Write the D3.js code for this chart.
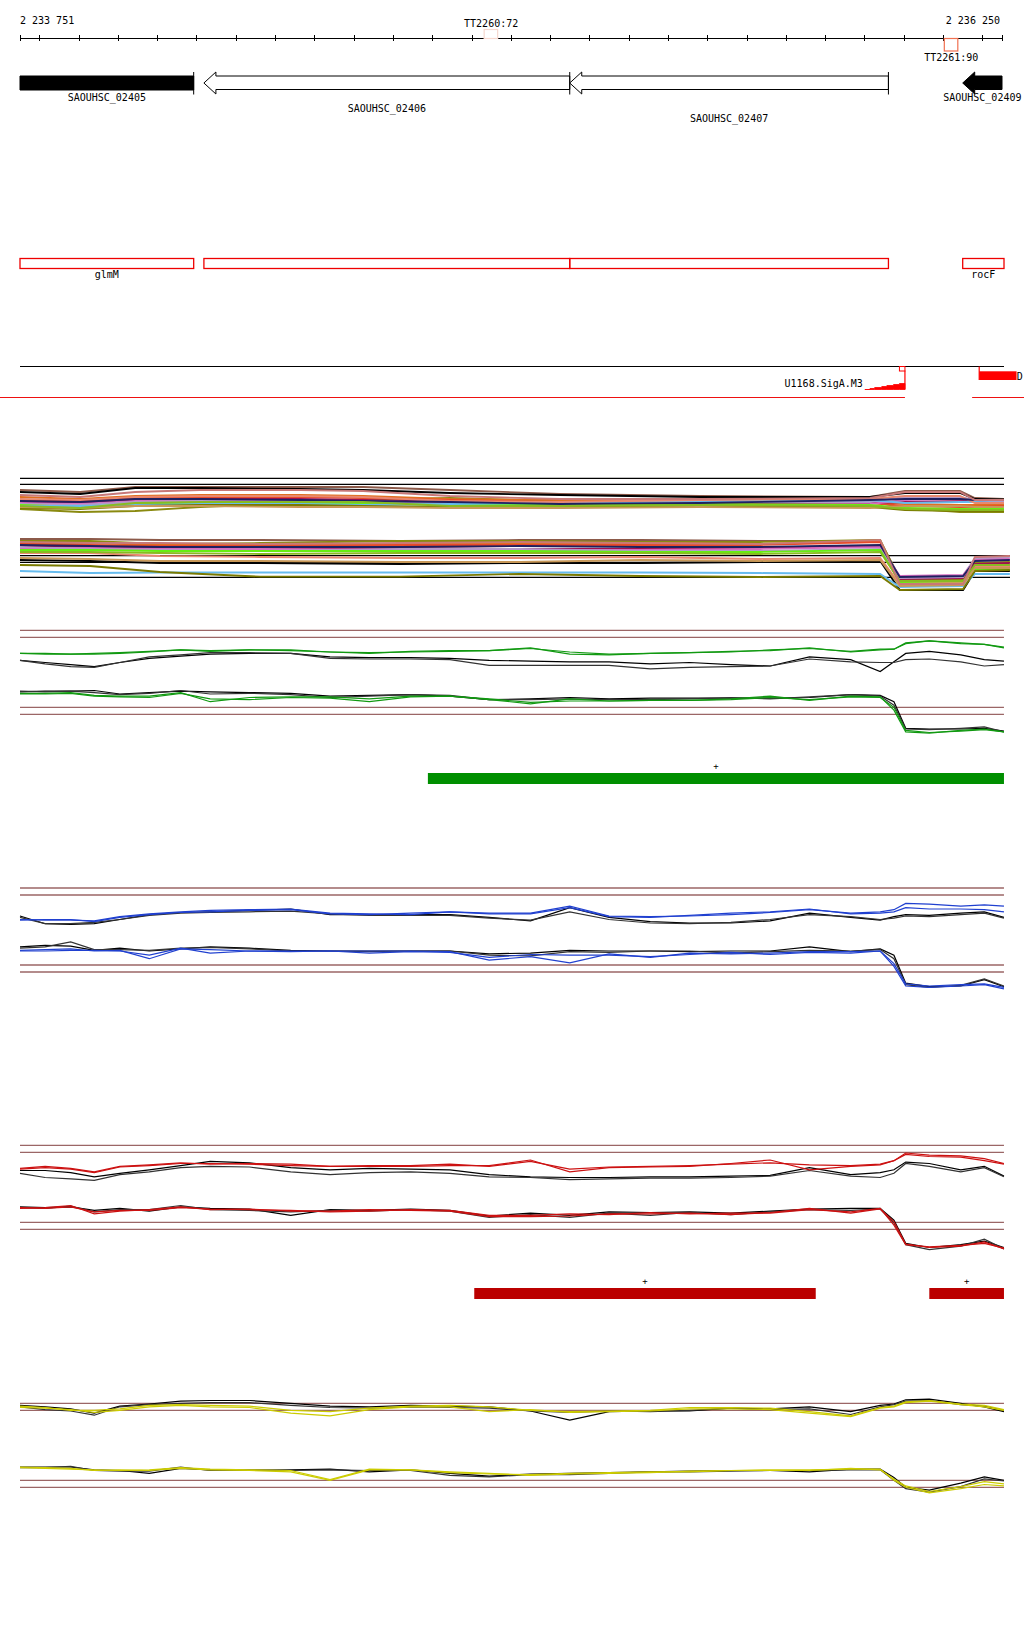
<!DOCTYPE html>
<html><head><meta charset="utf-8">
<script src="https://cdn.jsdelivr.net/npm/d3@7"></script>
<style>
body{margin:0;background:#fff}
text{font-family:"DejaVu Sans Mono",monospace;font-size:10px;fill:#000}
</style>
</head><body>
<svg id="c" width="1024" height="1640"></svg>
<script>
// ---------------- DATA ----------------
const viewStart = 2233751, viewEnd = 2236250;
const tickStep = 100;

const termNames = ["TT2260:72", "TT2261:90"];
const termPos = [2234950, 2236121];
const termStrand = ["+", "-"];

const geneNames = ["SAOUHSC_02405", "SAOUHSC_02406", "SAOUHSC_02407", "SAOUHSC_02409"];
const geneSymbols = ["glmM", "", "", "rocF"];
const geneStarts = [2233600, 2234219, 2235150, 2236150];
const geneEnds = [2234193, 2235150, 2235961, 2236400];
const geneFilled = [true, false, false, true];
const geneLabelRows = [0, 1, 2, 0];

const sigAName = "U1168.SigA.M3";
const sigAPos = [2235901, 2235914, 2235926, 2235944, 2235957, 2235974, 2235989, 2236003];
const sigAScore = [0, 1, 2, 3, 4, 5, 6, 6];
const otherSiteName = "D";
const otherSite = [2236192, 2236287];
const redLineGap = [2236003, 2236174];

// panel A : all conditions (upper = + strand, lower = - strand)
const aUpGrid = [2233751, 2233904, 2234044, 2234209, 2234464, 2234624, 2234845, 2235125, 2235481, 2235914, 2236003, 2236143, 2236181, 2236255];
const aLoGrid = [2233751, 2233929, 2234107, 2234362, 2234718, 2235023, 2235329, 2235634, 2235940, 2235990, 2236151, 2236181, 2236270];
const aColors = ["#8c5a4a", "#000000", "#8a8a10", "#e07020", "#e84a2a", "#a01050", "#d66cc0", "#b49ac8", "#66ee11", "#66bbee", "#7a7a00", "#e88870", "#c89858", "#202060", "#88bb22", "#c87878"];
const aUpper = [
  [10.0, 9.8, 10.3, 10.3, 10.3, 10.3, 10.0, 9.6, 9.4, 9.3, 9.9, 9.9, 9.2, 9.1],
  [9.8, 9.6, 10.2, 10.2, 10.1, 10.0, 9.7, 9.5, 9.3, 9.3, 9.7, 9.7, 9.1, 9.05],
  [8.1, 7.8, 7.9, 8.3, 8.7, 9.0, 9.2, 8.9, 8.8, 8.9, 8.2, 7.8, 7.8, 7.8],
  [9.3, 9.1, 9.4, 9.5, 9.5, 9.4, 9.1, 9.0, 8.9, 8.8, 8.6, 8.5, 8.5, 8.5],
  [9.0, 8.9, 9.2, 9.3, 9.3, 9.2, 9.0, 8.8, 8.7, 8.7, 8.4, 8.3, 8.3, 8.4],
  [8.8, 8.7, 9.0, 9.1, 9.1, 9.0, 8.8, 8.7, 8.6, 8.7, 8.8, 8.9, 8.9, 8.9],
  [8.7, 8.6, 8.9, 9.0, 8.9, 8.9, 8.7, 8.6, 8.5, 8.6, 9.0, 9.1, 9.0, 8.9],
  [8.6, 8.5, 8.8, 8.9, 8.8, 8.8, 8.6, 8.7, 8.8, 8.8, 9.3, 9.3, 9.0, 8.8],
  [8.5, 8.3, 8.6, 8.7, 8.7, 8.7, 8.5, 8.5, 8.6, 8.5, 8.2, 8.1, 8.1, 8.1],
  [8.4, 8.4, 8.5, 8.6, 8.6, 8.5, 8.6, 8.7, 8.9, 9.0, 8.7, 8.8, 8.8, 8.7],
  [8.2, 8.1, 8.4, 8.5, 8.5, 8.4, 8.3, 8.3, 8.4, 8.3, 8.0, 7.9, 7.9, 7.9],
  [9.1, 9.0, 9.3, 9.4, 9.4, 9.3, 8.9, 8.8, 9.0, 9.1, 9.4, 9.4, 8.7, 8.7],
  [8.3, 8.2, 8.4, 8.4, 8.3, 8.3, 8.2, 8.2, 8.3, 8.2, 8.4, 8.4, 8.3, 8.3],
  [8.9, 8.8, 9.1, 9.1, 9.0, 8.9, 8.8, 8.6, 8.7, 9.0, 9.1, 9.1, 9.0, 9.0],
  [8.4, 8.2, 8.7, 8.8, 8.8, 8.8, 8.4, 8.4, 8.5, 8.4, 8.1, 8.0, 8.0, 8.0],
  [9.5, 9.3, 9.8, 10.0, 10.0, 9.9, 9.4, 9.1, 9.1, 9.2, 9.8, 9.8, 9.0, 9.0]
];
const aLower = [
  [5.1, 5.1, 5.0, 5.0, 4.9, 5.0, 5.0, 4.9, 4.9, 1.2, 1.4, 3.0, 3.4],
  [3.0, 2.9, 2.7, 2.7, 2.6, 2.7, 2.7, 2.8, 2.9, 0.0, 0.0, 1.9, 1.9],
  [4.9, 4.9, 4.6, 4.7, 4.9, 4.9, 4.8, 4.8, 5.0, 1.0, 1.1, 2.7, 2.8],
  [4.7, 4.7, 4.5, 4.5, 4.6, 4.6, 4.7, 4.6, 4.9, 0.7, 0.8, 2.4, 2.5],
  [4.6, 4.5, 4.4, 4.4, 4.5, 4.5, 4.5, 4.5, 4.8, 0.5, 0.6, 2.2, 2.3],
  [4.4, 4.3, 4.2, 4.2, 4.2, 4.1, 4.1, 4.2, 4.4, 1.1, 1.2, 2.6, 2.7],
  [4.2, 4.2, 4.1, 4.1, 4.0, 4.0, 4.0, 4.1, 4.3, 1.4, 1.5, 3.1, 3.1],
  [4.3, 4.1, 4.0, 3.9, 4.1, 4.1, 3.9, 3.9, 4.1, 1.2, 1.3, 3.2, 3.3],
  [4.0, 4.0, 3.9, 3.9, 3.9, 3.9, 3.8, 3.8, 4.0, 0.8, 0.8, 2.0, 2.1],
  [1.9, 1.7, 1.75, 1.75, 1.75, 1.75, 1.75, 1.7, 1.6, 0.3, 0.4, 1.6, 1.6],
  [2.5, 2.4, 1.8, 1.33, 1.33, 1.6, 1.4, 1.3, 1.4, 0.0, 0.1, 1.9, 2.0],
  [3.7, 3.7, 3.4, 3.3, 3.2, 3.2, 3.3, 3.1, 3.2, 0.6, 0.7, 2.4, 2.4],
  [3.2, 3.1, 2.9, 2.9, 2.8, 2.8, 3.0, 2.9, 3.0, 0.4, 0.5, 2.2, 2.2],
  [4.5, 4.4, 4.3, 4.3, 4.3, 4.4, 4.3, 4.3, 4.5, 1.3, 1.4, 2.9, 3.0],
  [3.8, 3.8, 3.7, 3.6, 3.7, 3.7, 3.7, 3.6, 3.8, 0.9, 0.9, 2.5, 2.5],
  [4.8, 4.7, 4.7, 4.6, 4.7, 4.8, 4.7, 4.6, 5.0, 0.6, 0.6, 3.3, 3.4]
];
const aThresholds = [11.17, 10.57, 3.43, 2.77, 1.27];

// panels B-E : selected conditions
const grid = [2233751, 2233815, 2233880, 2233940, 2234005, 2234080, 2234160, 2234235, 2234335, 2234440, 2234540, 2234640, 2234745, 2234845, 2234945, 2235050, 2235150, 2235250, 2235355, 2235455, 2235560, 2235660, 2235760, 2235865, 2235940, 2235975, 2236005, 2236065, 2236145, 2236205, 2236255];
const thresholds = [14, 13, 3, 2];

const bUpGreen1 = [10.7,10.6,10.6,10.6,10.7,10.9,11.2,11.1,11.2,11.2,10.9,10.7,11.0,11.1,11.1,11.4,10.9,10.6,10.7,10.8,10.9,11.2,11.4,11.0,11.3,11.3,12.2,12.5,12.2,12.0,11.6];
const bUpGreen2 = [10.7,10.7,10.6,10.7,10.8,11.0,11.2,11.0,11.2,11.1,10.9,10.8,10.9,11.0,11.1,11.5,10.6,10.5,10.7,10.8,11.0,11.1,11.5,10.9,11.2,11.3,12.1,12.5,12.1,12.0,11.5];
const bUpBlack1 = [9.7,9.4,9.1,8.8,9.4,10.0,10.3,10.6,10.7,10.7,10.2,10.1,10.1,10.0,9.7,9.6,9.5,9.5,9.2,9.4,9.1,8.9,10.2,9.8,8.1,9.5,10.7,11.0,10.5,9.8,9.6];
const bUpBlack2 = [9.7,9.2,8.8,8.7,9.4,10.2,10.5,10.8,10.8,10.7,10.0,9.9,9.9,9.8,9.0,9.0,9.0,9.0,8.5,8.7,8.8,8.9,9.9,9.5,9.4,9.4,9.8,9.9,9.5,8.9,9.1];
const bLoBlack1 = [5.2,5.3,5.3,5.4,4.9,5.1,5.3,5.2,5.1,5.0,4.6,4.7,4.8,4.6,4.1,4.2,4.4,4.2,4.3,4.3,4.3,4.3,4.4,4.8,4.7,3.8,0.0,-0.1,-0.1,0.0,-0.4];
const bLoBlack2 = [5.3,5.2,5.3,5.1,4.8,5.0,5.4,4.9,5.0,4.8,4.4,4.6,4.8,4.7,4.1,4.1,4.2,4.1,4.1,4.2,4.4,4.2,4.5,4.8,4.6,3.3,-0.1,-0.2,0.0,0.2,-0.5];
const bLoGreen1 = [4.9,4.9,5.0,4.6,4.5,4.4,5.0,4.2,4.1,4.4,4.3,3.8,4.5,4.6,4.2,3.7,3.9,3.9,4.0,4.0,4.1,4.4,4.1,4.5,4.4,3.0,-0.3,-0.6,-0.4,-0.2,-0.5];
const bLoGreen2 = [5.0,5.0,5.1,4.7,4.6,4.6,5.1,3.8,4.4,4.5,4.5,4.2,4.6,4.6,4.1,3.5,4.2,3.9,4.0,4.0,4.2,4.6,4.0,4.6,4.5,2.6,-0.5,-0.7,-0.3,-0.1,-0.5];

const cUpBlue1 = [9.5,9.4,9.4,9.3,9.9,10.3,10.6,10.8,10.9,11.0,10.4,10.3,10.2,10.6,10.4,10.4,11.4,10.0,9.9,10.0,10.2,10.5,10.9,10.4,10.6,10.9,11.8,11.7,11.4,11.6,11.4];
const cUpBlue2 = [9.4,9.5,9.5,9.2,9.8,10.2,10.5,10.6,10.8,10.9,10.3,10.2,10.4,10.6,10.3,10.3,11.2,9.9,9.8,10.1,10.4,10.6,11.0,10.3,10.4,10.6,11.2,11.0,11.0,10.9,10.6];
const cUpBlack1 = [10.0,8.9,8.8,8.9,9.5,10.2,10.5,10.6,10.8,11.0,10.2,10.2,10.2,10.2,9.8,9.3,11.2,9.8,9.2,9.0,9.0,9.3,10.4,9.8,9.4,9.9,10.2,10.1,10.4,10.6,9.8];
const cUpBlack2 = [9.8,8.9,8.9,9.1,9.5,10.1,10.4,10.5,10.6,10.7,10.3,10.1,10.1,10.1,9.7,9.4,10.6,9.5,9.0,8.9,9.1,9.5,10.2,9.9,9.5,9.7,10.0,9.9,10.2,10.4,9.7];
const cLoBlack1 = [5.6,5.8,5.7,5.1,5.4,5.0,5.3,5.6,5.4,5.1,5.0,5.0,5.0,5.0,4.6,4.7,5.1,5.0,5.0,4.9,5.0,5.0,5.6,4.9,5.3,4.4,0.4,-0.1,0.0,0.9,-0.1];
const cLoBlack2 = [5.4,5.6,6.3,5.2,5.2,5.1,5.4,5.5,5.3,5.0,5.0,4.9,5.0,5.0,4.4,4.3,4.9,4.8,5.0,5.0,4.7,4.9,5.1,5.0,5.2,3.9,0.2,-0.2,0.1,1.0,0.0];
const cLoBlue1 = [5.1,5.2,5.3,5.0,5.1,3.9,5.3,5.2,5.0,5.0,5.0,5.0,5.0,4.9,3.7,4.2,3.3,4.6,4.1,4.7,4.6,4.7,4.9,4.9,5.0,3.2,0.3,0.0,0.2,0.3,-0.2];
const cLoBlue2 = [5.0,5.0,5.1,5.1,5.0,4.4,5.4,4.7,5.0,4.9,5.0,4.7,4.9,4.8,4.1,4.5,4.4,4.4,4.2,4.5,4.8,4.5,4.8,4.7,5.0,2.8,0.0,-0.2,0.0,0.2,-0.4];

const dUpRed1 = [10.7,11.0,10.7,10.2,11.0,11.2,11.5,11.3,11.4,11.3,11.0,11.1,11.1,11.3,11.0,11.7,10.6,10.9,11.0,11.1,11.3,11.5,11.2,11.1,11.3,11.8,12.9,12.6,12.5,12.1,11.4];
const dUpRed2 = [10.6,10.8,10.6,10.1,10.9,11.1,11.4,11.4,11.3,11.1,11.0,11.0,11.0,11.1,11.1,11.9,10.2,10.8,10.9,11.0,11.4,11.9,10.5,11.0,11.2,11.8,12.7,12.4,12.3,11.8,11.3];
const dUpBlack1 = [10.4,10.4,10.1,9.5,10.0,10.5,11.1,11.7,11.5,10.8,10.5,10.7,10.6,10.5,9.8,9.5,9.4,9.4,9.5,9.5,9.6,9.7,10.8,9.8,10.1,10.5,11.6,11.4,10.5,11.0,9.6];
const dUpBlack2 = [10.0,9.4,9.2,9.0,9.8,10.2,10.8,11.0,10.9,10.2,9.8,10.1,10.2,10.0,9.5,9.4,9.1,9.2,9.3,9.3,9.4,9.6,10.4,9.6,9.4,10.0,11.4,11.0,10.2,10.8,9.5];
const dLoBlack1 = [5.2,5.1,5.2,4.7,5.0,4.6,5.2,5.0,4.9,4.0,4.8,4.7,4.9,4.7,3.9,4.3,4.0,4.5,4.4,4.5,4.3,4.6,4.9,5.0,5.0,3.3,0.0,-0.6,-0.2,0.3,-0.6];
const dLoBlack2 = [5.1,5.0,5.3,4.5,4.8,4.8,5.4,4.8,4.7,4.5,4.7,4.6,4.8,4.6,3.7,4.1,3.7,4.3,4.0,4.4,4.1,4.5,4.8,4.7,4.9,2.9,-0.2,-0.9,-0.4,0.6,-0.8];
const dLoRed1 = [5.0,5.1,5.4,4.2,4.6,4.8,5.2,4.8,4.9,4.6,4.6,4.8,4.7,4.6,3.8,3.8,3.9,4.2,4.2,4.3,4.1,4.4,5.0,4.3,4.9,3.1,-0.1,-0.6,-0.4,0.2,-0.8];
const dLoRed2 = [5.1,5.0,5.2,4.5,4.7,4.7,5.1,4.9,4.8,4.7,4.5,4.6,4.8,4.7,4.0,4.0,4.2,4.1,4.4,4.2,4.3,4.3,4.8,4.5,5.0,2.6,-0.2,-0.5,-0.3,0.0,-0.7];

const eUpBlack1 = [13.7,13.5,13.2,12.6,13.6,13.9,14.3,14.4,14.4,14.0,13.6,13.5,13.7,13.6,13.5,12.9,11.6,12.8,12.9,12.9,13.3,13.2,13.5,12.8,13.7,13.9,14.5,14.6,14.0,13.5,12.8];
const eUpBlack2 = [13.5,13.1,12.9,12.3,13.5,13.8,14.0,14.1,14.1,13.7,13.4,13.3,13.5,13.4,13.3,12.9,12.7,12.9,12.8,13.0,13.3,13.1,13.2,12.4,13.5,13.8,14.3,14.4,13.8,13.6,13.0];
const eUpYellow1 = [13.6,13.4,13.0,13.0,13.2,13.7,13.8,13.7,13.6,13.0,12.8,13.3,13.6,13.7,13.5,13.0,12.8,12.9,13.0,13.4,13.4,13.3,12.8,12.2,13.4,13.6,14.2,14.4,13.9,13.7,13.1];
const eUpYellow2 = [13.4,13.3,13.1,12.7,13.0,13.5,13.7,13.5,13.4,12.6,12.2,13.1,13.5,13.5,12.8,13.1,12.7,12.8,12.9,13.2,13.2,13.1,12.6,12.1,13.3,13.5,14.1,14.3,13.8,13.5,13.0];
const eLoBlack1 = [4.9,4.9,4.9,4.5,4.4,4.0,4.7,4.5,4.4,4.5,4.6,4.2,4.5,4.0,3.6,3.9,4.0,4.1,4.2,4.3,4.4,4.4,4.2,4.6,4.6,3.4,2.0,1.6,2.6,3.5,3.0];
const eLoBlack2 = [4.8,4.8,5.0,4.4,4.3,4.3,4.9,4.4,4.5,4.4,4.5,4.4,4.4,3.7,3.5,3.8,3.8,4.0,4.2,4.2,4.3,4.4,4.4,4.5,4.5,3.0,1.8,1.3,2.1,3.2,2.9];
const eLoYellow1 = [4.8,4.7,4.6,4.5,4.4,4.5,4.8,4.6,4.5,4.4,3.1,4.6,4.5,4.1,3.9,3.8,4.0,4.1,4.2,4.2,4.4,4.5,4.5,4.6,4.6,3.0,2.0,1.2,1.8,2.4,2.2];
const eLoYellow2 = [4.9,4.8,4.7,4.4,4.5,4.4,4.7,4.5,4.4,4.2,3.0,4.5,4.5,4.2,4.0,3.7,3.9,4.0,4.1,4.3,4.4,4.4,4.4,4.7,4.5,3.2,2.2,1.4,2.1,2.8,2.5];

const greenSegStarts = [2234789], greenSegEnds = [2236255];
const redSegStarts = [2234907, 2236065], redSegEnds = [2235776, 2236255];

// ---------------- DRAW ----------------
const svg = d3.select("#c");
const x = d3.scaleLinear().domain([viewStart, viewEnd]).range([20, 1002]);
const fmt = d3.formatLocale({decimal: ".", thousands: " ", grouping: [3], currency: ["", ""]}).format(",");

// coordinate axis
const tickVals = [viewStart].concat(d3.range(2233800, 2236201, tickStep)).concat([viewEnd]);
const axG = svg.append("g").attr("transform", "translate(0,38)");
axG.call(d3.axisBottom(x).tickValues(tickVals).tickSize(3).tickSizeOuter(0).tickFormat(""));
axG.append("g").call(d3.axisTop(x).tickValues(tickVals).tickSize(3).tickSizeOuter(0).tickFormat(""));
axG.selectAll("path,line").attr("stroke", "#000").attr("shape-rendering", "crispEdges");
svg.append("text").attr("x", x(viewStart)).attr("y", 24).text(fmt(viewStart));
svg.append("text").attr("x", x(viewEnd) - 2).attr("y", 24).attr("text-anchor", "end").text(fmt(viewEnd));

// terminators
termNames.forEach((n, i) => {
  const cx = x(termPos[i]);
  const plus = termStrand[i] === "+";
  svg.append("rect").attr("x", cx - 7).attr("y", plus ? 29.5 : 38.5).attr("width", 13.5).attr("height", plus ? 9 : 12.5)
    .attr("fill", "none").attr("stroke", plus ? "#f6d8cf" : "#f07050").attr("stroke-width", 1.2);
  svg.append("text").attr("x", cx).attr("y", plus ? 26.5 : 60.5).attr("text-anchor", "middle").text(n);
});

// genes
geneNames.forEach((n, i) => {
  const a = x(geneStarts[i]), b = x(geneEnds[i]);
  const L = Math.max(a, 20), R = Math.min(b, 1002);
  const head = 12;
  let pts;
  if (a >= 20) pts = [[a, 83], [a + head, 72], [a + head, 76], [R, 76], [R, 89.5], [a + head, 89.5], [a + head, 94]];
  else pts = [[L, 76], [R, 76], [R, 90], [L, 90]];
  svg.append("polygon").attr("points", pts.map(p => p.join(",")).join(" "))
    .attr("fill", geneFilled[i] ? "#000" : "#fff").attr("stroke", "#000").attr("stroke-width", 1);
  if (b <= 1002) svg.append("line").attr("x1", R).attr("x2", R).attr("y1", 72).attr("y2", 94.5).attr("stroke", "#000");
  svg.append("text").attr("x", (L + R) / 2).attr("y", 101 + geneLabelRows[i] * 10.5).attr("text-anchor", "middle").text(n);
  // annotation boxes
  const bl = Math.max(a, 20), br = Math.min(b, 1004);
  svg.append("rect").attr("x", bl).attr("y", 258.5).attr("width", br - bl).attr("height", 10)
    .attr("fill", "none").attr("stroke", "#ee0000").attr("stroke-width", 1.3);
  if (geneSymbols[i]) svg.append("text").attr("x", (bl + br) / 2).attr("y", 278).attr("text-anchor", "middle").text(geneSymbols[i]);
});

// promoter / sites track
svg.append("line").attr("x1", 20).attr("x2", 1004).attr("y1", 366.5).attr("y2", 366.5).attr("stroke", "#000").attr("stroke-width", 1.2);
const ySig = d3.scaleLinear().domain([0, 6]).range([389.5, 383.5]);
const sigData = sigAPos.map((p, i) => ({p, s: sigAScore[i]}));
svg.append("path").attr("d", d3.area().x(d => x(d.p)).y0(389.5).y1(d => ySig(d.s)).curve(d3.curveStepAfter)(sigData))
  .attr("fill", "#ff0000").attr("stroke", "#ff0000").attr("stroke-width", 0.8);
const sx = x(sigAPos[sigAPos.length - 1]);
svg.append("line").attr("x1", sx).attr("x2", sx).attr("y1", 370.5).attr("y2", 389.5).attr("stroke", "#ff0000").attr("stroke-width", 1.2);
svg.append("rect").attr("x", sx - 5.5).attr("y", 366.5).attr("width", 5.5).attr("height", 4.5).attr("fill", "#fff").attr("stroke", "#ff0000").attr("stroke-width", 1);
svg.append("text").attr("x", x(sigAPos[0]) - 2).attr("y", 387.3).attr("text-anchor", "end").text(sigAName);
const ox0 = x(otherSite[0]), ox1 = x(otherSite[1]);
svg.append("line").attr("x1", ox0).attr("x2", ox0).attr("y1", 366.5).attr("y2", 380).attr("stroke", "#ff0000").attr("stroke-width", 1.2);
svg.append("rect").attr("x", ox0).attr("y", 371.3).attr("width", ox1 - ox0).attr("height", 8.7).attr("fill", "#ff0000");
svg.append("text").attr("x", ox1 + 0.3).attr("y", 380).text(otherSiteName);
svg.append("line").attr("x1", 0).attr("x2", x(redLineGap[0])).attr("y1", 397.5).attr("y2", 397.5).attr("stroke", "#ee1111").attr("stroke-width", 1.2);
svg.append("line").attr("x1", x(redLineGap[1])).attr("x2", 1024).attr("y1", 397.5).attr("y2", 397.5).attr("stroke", "#ee1111").attr("stroke-width", 1.2);

// panel A
const yA = d3.scaleLinear().domain([0, 12]).range([590, 470]);
aThresholds.forEach((t, i) => {
  svg.append("line").attr("x1", 20).attr("x2", i < 2 ? 1004 : 1010).attr("y1", yA(t)).attr("y2", yA(t))
    .attr("stroke", "#000").attr("stroke-width", 1.3);
});
function drawSet(gridArr, rows, yScale, colors, width, curve) {
  const ln = d3.line().x((d, i) => x(gridArr[i])).y(d => yScale(d)).curve(curve || d3.curveLinear);
  rows.forEach((r, i) => {
    svg.append("path").attr("d", ln(r)).attr("fill", "none").attr("stroke", colors[i % colors.length]).attr("stroke-width", width);
  });
}
drawSet(aUpGrid, aUpper, yA, aColors, 1.8);
drawSet(aLoGrid, aLower, yA, aColors, 1.8);

// panels B-E
function panel(top, blacks, cols, color) {
  const yS = d3.scaleLinear().domain([14, 0]).range([top, top + 98]);
  thresholds.forEach(t => {
    svg.append("line").attr("x1", 20).attr("x2", x(grid[grid.length - 1])).attr("y1", yS(t)).attr("y2", yS(t))
      .attr("stroke", "#9b6666").attr("stroke-width", 1.3);
  });
  drawSet(grid, blacks, yS, ["#000000", "#333333"], 1.2);
  drawSet(grid, cols, yS, [color], 1.2);
  return yS;
}
panel(630.3, [bUpBlack1, bUpBlack2, bLoBlack1, bLoBlack2], [bUpGreen1, bUpGreen2, bLoGreen1, bLoGreen2], "#119911");
panel(888, [cUpBlack1, cUpBlack2, cLoBlack1, cLoBlack2], [cUpBlue1, cUpBlue2, cLoBlue1, cLoBlue2], "#2040d0");
panel(1145.3, [dUpBlack1, dUpBlack2, dLoBlack1, dLoBlack2], [dUpRed1, dUpRed2, dLoRed1, dLoRed2], "#cc1111");
panel(1403.3, [eUpBlack1, eUpBlack2, eLoBlack1, eLoBlack2], [eUpYellow1, eUpYellow2, eLoYellow1, eLoYellow2], "#cccc00");

// segment bars
function bars(starts, ends, y0, color) {
  starts.forEach((s, i) => {
    const a = x(s), b = x(ends[i]);
    svg.append("rect").attr("x", a).attr("y", y0).attr("width", b - a).attr("height", 11).attr("fill", color);
    svg.append("text").attr("x", (a + b) / 2).attr("y", y0 - 4).attr("text-anchor", "middle").style("font-size", "9px").text("+");
  });
}
bars(greenSegStarts, greenSegEnds, 773, "#008f00");
bars(redSegStarts, redSegEnds, 1288, "#bb0000");
</script>
</body></html>
